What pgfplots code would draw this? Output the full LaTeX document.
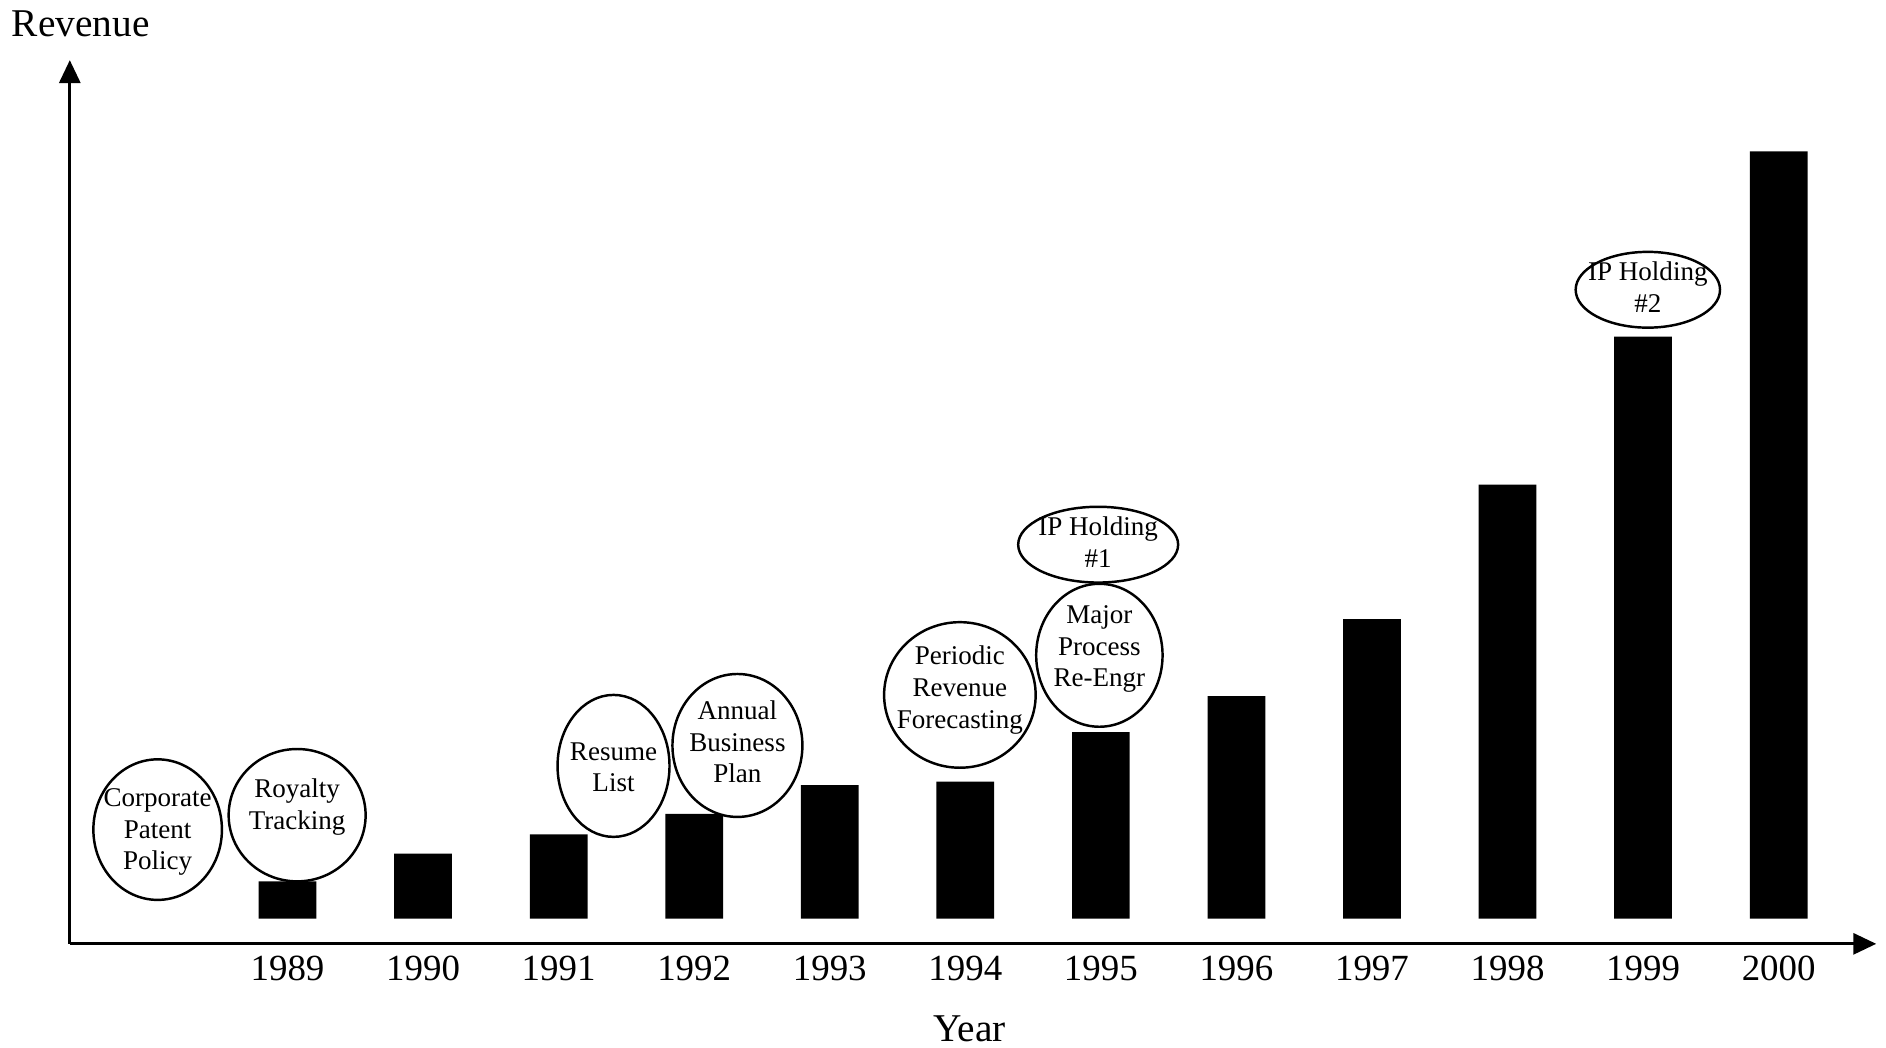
\documentclass[border=0pt]{standalone}
\usepackage{fontspec}
\setmainfont{Liberation Serif}
\usepackage{pgfplots}
\pgfplotsset{compat=1.18}
\usetikzlibrary{arrows.meta}
\begin{document}
\begin{tikzpicture}
\begin{axis}[
  scale only axis,
  width=18.07cm, height=8.84cm,
  xmin=-1.606, xmax=11.72, ymin=-21, ymax=714,
  axis lines=left,
  axis line style={line width=0.9pt, -{Triangle[length=2.3mm,width=2.1mm]}},
  xtick={0,1,2,3,4,5,6,7,8,9,10,11},
  xticklabels={1989,1990,1991,1992,1993,1994,1995,1996,1997,1998,1999,2000},
  ytick=\empty,
  major tick length=0pt,
  xticklabel style={font=\fontsize{10.5}{12}\selectfont},
  xlabel={Year},
  xlabel style={font=\fontsize{11.2}{13}\selectfont, at={(axis cs:5.031,-102)}, anchor=base, inner sep=0pt},
  clip=false,
  /pgf/number format/assume math mode=true,
]
\addplot[ybar, bar width=0.426, bar shift=0pt, fill=black, draw=none]
  coordinates {(0,31) (1,54) (2,70) (3,87) (4,111) (5,114) (6,155) (7,185) (8,249) (9,361) (10,484) (11,638)};

\path (axis cs:-2.121,-107) rectangle (axis cs:11.792,764);

\node[anchor=base, inner sep=0pt, font=\fontsize{11.2}{13}\selectfont] at (axis cs:-1.526,734) {Revenue};

\tikzset{bub/.style={line width=0.7pt, draw=black, fill=white},
         btxt/.style={align=center, font=\fontsize{7.7}{9}\selectfont, inner sep=0pt}}
\filldraw[bub] (axis cs:-0.958,74) ellipse [x radius=6.43mm, y radius=7.03mm];
\node[btxt] at (axis cs:-0.958,72) {Corporate\\Patent\\Policy};
\filldraw[bub] (axis cs:0.071,86) ellipse [x radius=6.85mm, y radius=6.62mm];
\node[btxt] at (axis cs:0.071,93) {Royalty\\Tracking};
\filldraw[bub] (axis cs:2.405,127) ellipse [x radius=5.6mm, y radius=7.1mm];
\node[btxt] at (axis cs:2.405,126) {Resume\\List};
\filldraw[bub] (axis cs:3.319,144) ellipse [x radius=6.5mm, y radius=7.15mm];
\node[btxt] at (axis cs:3.319,147) {Annual\\Business\\Plan};
\filldraw[bub] (axis cs:4.960,186) ellipse [x radius=7.58mm, y radius=7.28mm];
\node[btxt] at (axis cs:4.960,190) {Periodic\\Revenue\\Forecasting};
\filldraw[bub] (axis cs:5.989,219) ellipse [x radius=6.32mm, y radius=7.15mm];
\node[btxt] at (axis cs:5.989,224) {Major\\Process\\Re-Engr};
\filldraw[bub] (axis cs:5.980,311) ellipse [x radius=8.0mm, y radius=3.79mm];
\node[btxt] at (axis cs:5.980,313) {IP Holding\\\#1};
\filldraw[bub] (axis cs:10.035,523) ellipse [x radius=7.22mm, y radius=3.79mm];
\node[btxt] at (axis cs:10.035,525) {IP Holding\\\#2};
\end{axis}
\end{tikzpicture}
\end{document}
